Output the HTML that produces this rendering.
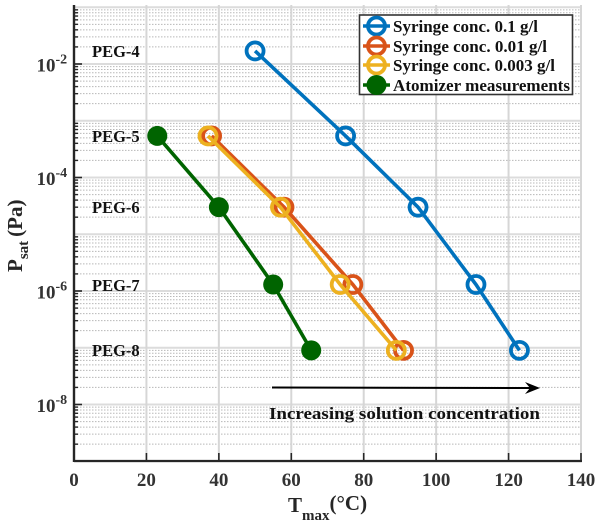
<!DOCTYPE html>
<html>
<head>
<meta charset="utf-8">
<style>
html,body{margin:0;padding:0;background:#fff;width:600px;height:527px;overflow:hidden}
svg{display:block;font-family:"Liberation Serif",serif;font-weight:bold;filter:blur(.35px)}
</style>
</head>
<body>
<svg id="chart" width="600" height="527" viewBox="0 0 600 527" xmlns="http://www.w3.org/2000/svg">
  <g id="grid"></g>
  <g id="series"></g>
  <g id="axes"></g>

  <g font-size="16.5" fill="#111">
    <text x="92" y="57">PEG-4</text>
    <text x="92" y="142">PEG-5</text>
    <text x="92" y="213">PEG-6</text>
    <text x="92" y="291">PEG-7</text>
    <text x="92" y="356">PEG-8</text>
  </g>

  <g>
    <line x1="272" y1="387.5" x2="532" y2="388" stroke="#000" stroke-width="2"/>
    <path d="M540 388 L525 382 L530 388 L525 394 Z" fill="#000"/>
    <text x="269" y="419" font-size="17.3" fill="#111" textLength="271" lengthAdjust="spacingAndGlyphs">Increasing solution concentration</text>
  </g>

  <text transform="translate(22,272) rotate(-90)" font-size="21" fill="#262626">P<tspan font-size="15" dy="6">sat</tspan><tspan dy="-6" dx="4">(Pa)</tspan></text>
  <text x="288" y="512" font-size="21" fill="#262626">T<tspan font-size="15" dy="8">max</tspan><tspan dy="-10">(°C)</tspan></text>

  <g>
    <rect x="359.5" y="15" width="213" height="79.5" fill="#fff" stroke="#333" stroke-width="1.6"/>
    <g>
      <line x1="363" x2="390" y1="26" y2="26" stroke="#0072BD" stroke-width="3.6"/>
      <circle cx="376.5" cy="26" r="8.5" fill="none" stroke="#0072BD" stroke-width="3.8"/>
      <text x="393" y="32" font-size="16.5" fill="#111" textLength="145" lengthAdjust="spacingAndGlyphs">Syringe conc. 0.1 g/l</text>
    </g>
    <g>
      <line x1="363" x2="390" y1="46" y2="46" stroke="#D95319" stroke-width="3.6"/>
      <circle cx="376.5" cy="46" r="8.5" fill="none" stroke="#D95319" stroke-width="3.8"/>
      <text x="393" y="52" font-size="16.5" fill="#111" textLength="154" lengthAdjust="spacingAndGlyphs">Syringe conc. 0.01 g/l</text>
    </g>
    <g>
      <line x1="363" x2="390" y1="65" y2="65" stroke="#EDB120" stroke-width="3.6"/>
      <circle cx="376.5" cy="65" r="8.5" fill="none" stroke="#EDB120" stroke-width="3.8"/>
      <text x="393" y="71" font-size="16.5" fill="#111" textLength="162" lengthAdjust="spacingAndGlyphs">Syringe conc. 0.003 g/l</text>
    </g>
    <g>
      <line x1="363" x2="390" y1="85" y2="85" stroke="#006400" stroke-width="3.6"/>
      <circle cx="376.5" cy="85" r="10" fill="#006400"/>
      <text x="393" y="91" font-size="16.5" fill="#111" textLength="177" lengthAdjust="spacingAndGlyphs">Atomizer measurements</text>
    </g>
  </g>
</svg>
<script>
const xTicks = [0, 20, 40, 60, 80, 100, 120, 140];
const yTickExponents = [-2, -4, -6, -8];
const yDecades = [-9, -8, -7, -6, -5, -4, -3, -2, -1];
const minorMultipliers = [2, 3, 4, 5, 6, 7, 8, 9];

const pressures = [1.7e-2, 5.4e-4, 3e-5, 1.3e-6, 9e-8];
const syringe01Temps = [50, 75, 95, 111, 123];
const syringe001Temps = [38, 58, 77, 91];
const syringe0003Temps = [37, 57, 73.5, 89];
const atomizerTemps = [23, 40, 55, 65.5];
const sharedPressures = [5.4e-4, 3e-5, 1.3e-6, 9e-8];

const SVG_NS = 'http://www.w3.org/2000/svg';
const plot = { left: 74, right: 581, top: 5, bottom: 461 };

function xScale(v) {
  return plot.left + (v - xTicks[0]) * (plot.right - plot.left) / (xTicks[xTicks.length - 1] - xTicks[0]);
}
function yScale(v) {
  return 404.5 - (Math.log10(v) + 8) * 56.75;
}
function make(tag, attrs, parent) {
  const el = document.createElementNS(SVG_NS, tag);
  for (const k in attrs) el.setAttribute(k, attrs[k]);
  parent.appendChild(el);
  return el;
}

const grid = document.getElementById('grid');
const axes = document.getElementById('axes');
const seriesLayer = document.getElementById('series');

yDecades.forEach(function (d) {
  minorMultipliers.forEach(function (m) {
    const y = yScale(m * Math.pow(10, d));
    if (y < plot.top) return;
    const line = make('line', { x1: plot.left, x2: plot.right, y1: y, y2: y, stroke: '#b8b8b8', 'stroke-width': 1, 'stroke-dasharray': '1.5 1.5' }, grid);
    
    
    const tick = make('line', { x1: plot.left, x2: plot.left + 4, y1: y, y2: y, stroke: '#262626', 'stroke-width': 1.4 }, axes);
    
    
  });
  const y = yScale(Math.pow(10, d));
  const major = make('line', { x1: plot.left, x2: plot.right, y1: y, y2: y, stroke: '#dcdcdc', 'stroke-width': 2 }, grid);
  
  
});

xTicks.forEach(function (t) {
  const x = xScale(t);
  if (t > 0) {
    const g = make('line', { x1: x, x2: x, y1: plot.top, y2: plot.bottom, stroke: '#d6d6d6', 'stroke-width': 2 }, grid);
    
    
    const tick = make('line', { x1: x, x2: x, y1: plot.bottom, y2: plot.bottom - 8, stroke: '#262626', 'stroke-width': 1.6 }, axes);
    
    
  }
  const label = make('text', { x: x, y: 486, 'text-anchor': 'middle', 'font-size': 19, fill: '#333' }, axes);
  
  
  label.textContent = t;
});

yTickExponents.forEach(function (e) {
  const y = yScale(Math.pow(10, e));
  const tick = make('line', { x1: plot.left, x2: plot.left + 8, y1: y, y2: y, stroke: '#262626', 'stroke-width': 1.6 }, axes);
  
  
  const label = make('text', { x: 36.5, y: y + 7.5, 'font-size': 19, fill: '#333' }, axes);
  
  
  label.textContent = '10';
  const sup = make('tspan', { dy: -8, 'font-size': 14 }, label);
  sup.textContent = String(e);
});

const leftAxis = make('line', { x1: plot.left, x2: plot.left, y1: plot.top, y2: plot.bottom + 1, stroke: '#262626', 'stroke-width': 2.4 }, axes);


const bottomAxis = make('line', { x1: plot.left, x2: plot.right + 1, y1: plot.bottom, y2: plot.bottom, stroke: '#262626', 'stroke-width': 2.2 }, axes);



function drawSeries(name, temps, press, color, filled) {
  const g = make('g', {}, seriesLayer);
  
  
  const pts = temps.map(function (t, i) { return xScale(t) + ',' + yScale(press[i]); }).join(' ');
  const line = make('polyline', { points: pts, fill: 'none', stroke: color, 'stroke-width': 3.6 }, g);
  
  
  temps.forEach(function (t, i) {
    const c = make('circle', {
      cx: xScale(t), cy: yScale(press[i]),
      r: filled ? 10 : 8.5,
      fill: filled ? color : 'none',
      stroke: filled ? 'none' : color,
      'stroke-width': 3.8
    }, g);
    
    
  });
}

drawSeries('syringe-0-1-series', syringe01Temps, pressures, '#0072BD', false);
drawSeries('syringe-0-01-series', syringe001Temps, sharedPressures, '#D95319', false);
drawSeries('syringe-0-003-series', syringe0003Temps, sharedPressures, '#EDB120', false);
drawSeries('atomizer-series', atomizerTemps, sharedPressures, '#006400', true);
</script>
</body>
</html>
